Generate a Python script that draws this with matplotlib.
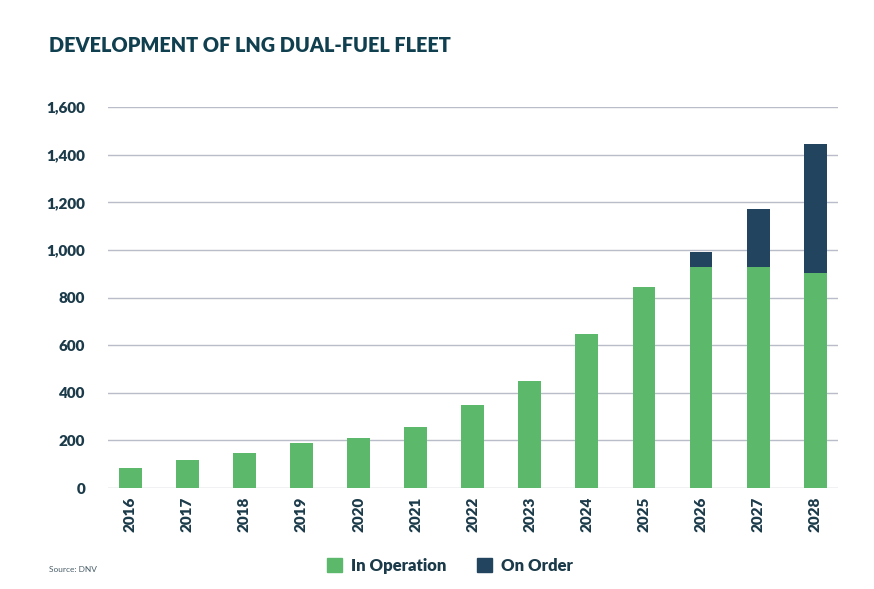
import matplotlib
matplotlib.use("Agg")
import matplotlib.pyplot as plt
from matplotlib.patches import Patch

years = ["2016", "2017", "2018", "2019", "2020", "2021", "2022",
         "2023", "2024", "2025", "2026", "2027", "2028"]
in_operation = [82, 117, 146, 188, 208, 258, 350, 450, 647, 842, 928, 928, 903]
on_order = [0, 0, 0, 0, 0, 0, 0, 0, 0, 0, 64, 244, 540]
yticks = [0, 200, 400, 600, 800, 1000, 1200, 1400, 1600]

green = "#5cb96b"
navy = "#22445f"
text_c = "#1c3b4a"
title_c = "#10404f"
grid_c = "#b9bcc9"

plt.rcParams["font.family"] = ["Lato", "DejaVu Sans"]

fig = plt.figure(figsize=(8.74, 5.89), dpi=100)
ax = fig.add_axes([108 / 874, 1 - 488 / 589, (838 - 108) / 874, (488 - 107) / 589])

x = list(range(len(years)))
ax.bar(x, in_operation, width=0.4, color=green, zorder=3)
ax.bar(x, on_order, width=0.4, bottom=in_operation, color=navy, zorder=3)

ax.set_xlim(-0.39, 12.4)
ax.set_ylim(0, 1600)
ax.set_yticks(yticks)
ax.set_yticklabels([f"{v:,}" for v in yticks], fontsize=11, fontweight="heavy", color=text_c)
ax.set_xticks(x)
ax.set_xticklabels(years, rotation=90, fontsize=11, fontweight="heavy", color=text_c)
ax.tick_params(axis="both", length=0)
ax.tick_params(axis="y", pad=16.5)
ax.tick_params(axis="x", pad=6)
ax.grid(axis="y", color=grid_c, linewidth=1.0, zorder=0)
for s in ax.spines.values():
    s.set_visible(False)

fig.text(49 / 874, 1 - 45 / 589, "DEVELOPMENT OF LNG DUAL-FUEL FLEET", fontsize=14.3,
         fontweight="heavy", color=title_c, va="center", ha="left")
fig.text(49 / 874, 1 - 569 / 589, "Source: DNV", fontsize=6, color="#4a5f6a", va="center", ha="left")

handles = [Patch(color=green, label="In Operation"), Patch(color=navy, label="On Order")]
leg = fig.legend(handles=handles, loc="center", bbox_to_anchor=(450 / 874, 1 - 566 / 589), ncol=2,
                 frameon=False, handlelength=0.9, handleheight=0.9, handletextpad=0.55,
                 columnspacing=1.8, prop={"size": 12, "weight": "heavy"})
for t in leg.get_texts():
    t.set_color(text_c)

fig.savefig("out.png", dpi=100)
